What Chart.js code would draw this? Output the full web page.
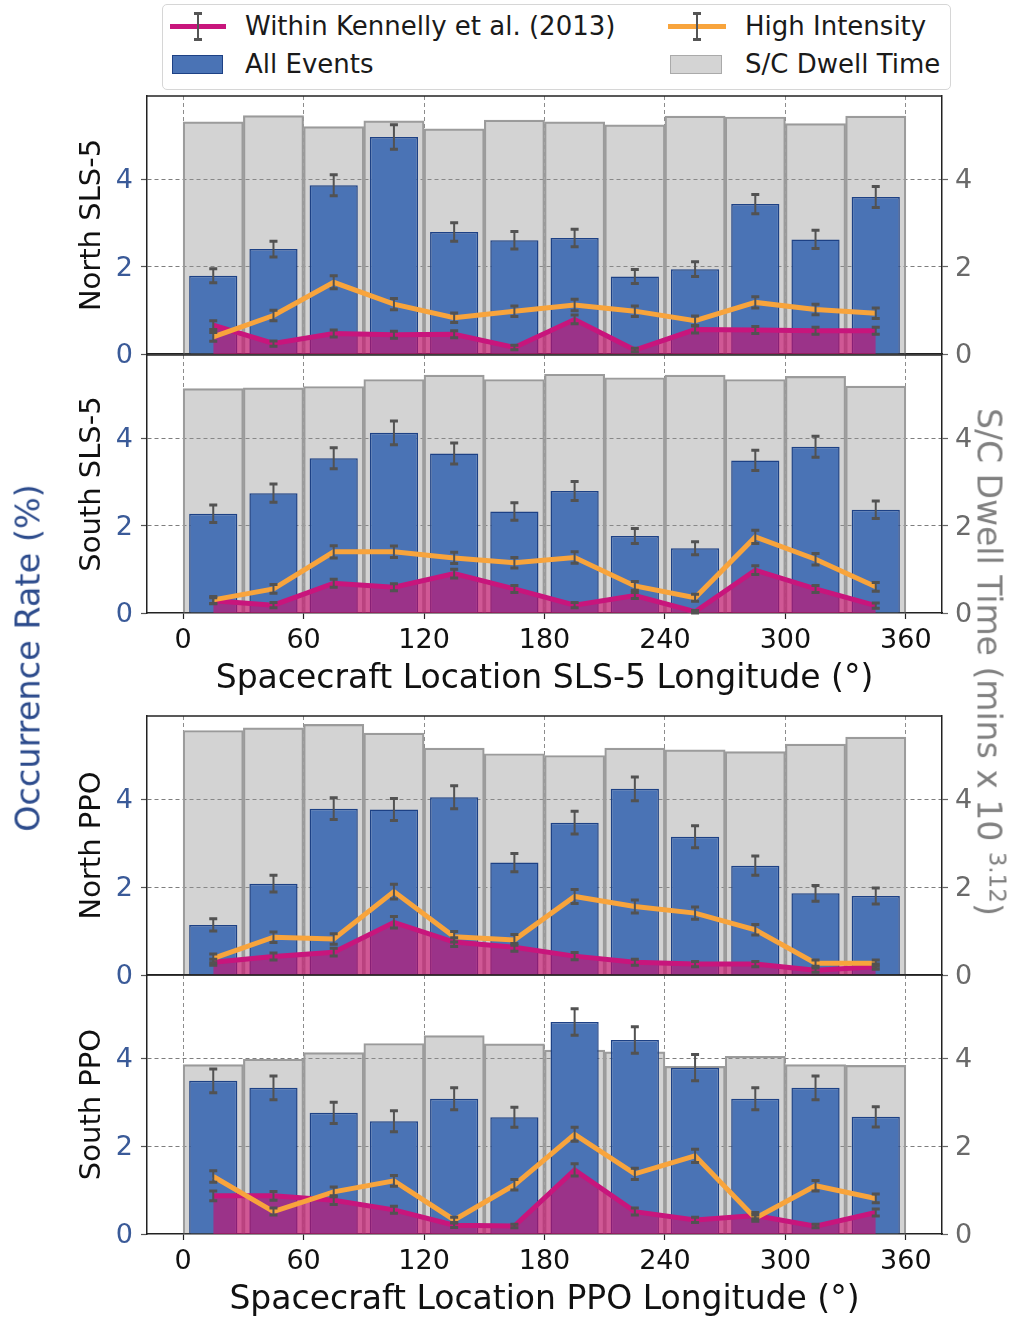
<!DOCTYPE html>
<html>
<head>
<meta charset="utf-8">
<script src="https://cdn.jsdelivr.net/npm/chart.js@4.4.1/dist/chart.umd.min.js"></script>
<style>
  html, body { margin: 0; padding: 0; background: #fff; }
  body { width: 1013px; height: 1319px; position: relative; overflow: hidden; font-family: 'DejaVu Sans', sans-serif; }
  canvas.panel { position: absolute; left: 0; }
  .txt { position: absolute; white-space: nowrap; color: #1a1a1a; }
  .rot { transform: translate(-50%, -50%) rotate(-90deg); }
  .rotcw { transform: translate(-50%, -50%) rotate(90deg); }
  .leg { position: absolute; }
</style>
</head>
<body>
<div class="leg" style="left:162px;top:4px;width:787px;height:84px;border:1.5px solid #d6d6d6;border-radius:5px;background:#fff;"></div>
<!-- legend markers -->
<div class="leg" style="left:170px;top:24px;width:56px;height:5px;background:#c8157c;"></div>
<div class="leg" style="left:197px;top:13px;width:2px;height:27px;background:#555;"></div>
<div class="leg" style="left:194px;top:12px;width:8px;height:3px;background:#555;"></div>
<div class="leg" style="left:194px;top:38px;width:8px;height:3px;background:#555;"></div>
<div class="leg" style="left:668px;top:24px;width:58px;height:5px;background:#f8a43c;"></div>
<div class="leg" style="left:696px;top:13px;width:2px;height:27px;background:#555;"></div>
<div class="leg" style="left:693px;top:12px;width:8px;height:3px;background:#555;"></div>
<div class="leg" style="left:693px;top:38px;width:8px;height:3px;background:#555;"></div>
<div class="leg" style="left:172px;top:55px;width:49px;height:17px;background:#4a73b5;border:1.5px solid #1d4185;"></div>
<div class="leg" style="left:670px;top:55px;width:50px;height:17px;background:#d4d4d4;border:1.5px solid #aaa;"></div>
<div class="txt" style="left:245px;top:10px;font-size:26px;line-height:32px;">Within Kennelly et al. (2013)</div>
<div class="txt" style="left:245px;top:48px;font-size:26px;line-height:32px;">All Events</div>
<div class="txt" style="left:745px;top:10px;font-size:26px;line-height:32px;">High Intensity</div>
<div class="txt" style="left:745px;top:48px;font-size:26px;line-height:32px;">S/C Dwell Time</div>

<canvas class="panel" id="p0" width="1013" height="310"></canvas>
<canvas class="panel" id="p1" width="1013" height="374"></canvas>
<canvas class="panel" id="p2" width="1013" height="310"></canvas>
<canvas class="panel" id="p3" width="1013" height="374"></canvas>

<div class="txt rot" style="left:28px;top:658px;font-size:33.5px;color:#2c4b8c;">Occurrence Rate (%)</div>
<div class="txt rotcw" style="left:990px;top:662px;font-size:33px;color:#808080;">S/C Dwell Time (mins x 10 <sup style="font-size:23px;">3.12</sup>)</div>

<script>
// ---------------- DATA ----------------
const lonCenters = [15, 45, 75, 105, 135, 165, 195, 225, 255, 285, 315, 345];
const xTickValues = [0, 60, 120, 180, 240, 300, 360];
const yTickValues = [0, 2, 4];

// North SLS-5
const dwellNorthSLS = [5.31, 5.45, 5.20, 5.33, 5.15, 5.35, 5.31, 5.24, 5.44, 5.42, 5.27, 5.44];
const allNorthSLS = [1.79, 2.40, 3.86, 4.96, 2.79, 2.60, 2.65, 1.77, 1.94, 3.43, 2.62, 3.59];
const allErrNorthSLS = [0.16, 0.18, 0.24, 0.28, 0.21, 0.20, 0.20, 0.16, 0.17, 0.22, 0.21, 0.24];
const highNorthSLS = [0.39, 0.88, 1.64, 1.14, 0.83, 0.98, 1.12, 0.98, 0.76, 1.18, 1.02, 0.93];
const highErrNorthSLS = [0.10, 0.12, 0.15, 0.13, 0.11, 0.12, 0.13, 0.12, 0.11, 0.13, 0.12, 0.12];
const kenNorthSLS = [0.66, 0.24, 0.47, 0.44, 0.45, 0.15, 0.79, 0.09, 0.56, 0.55, 0.53, 0.53];
const kenErrNorthSLS = [0.10, 0.06, 0.08, 0.08, 0.08, 0.05, 0.10, 0.04, 0.08, 0.08, 0.08, 0.08];

// South SLS-5
const dwellSouthSLS = [5.13, 5.15, 5.18, 5.34, 5.44, 5.34, 5.46, 5.38, 5.44, 5.34, 5.41, 5.19];
const allSouthSLS = [2.27, 2.74, 3.54, 4.12, 3.65, 2.32, 2.79, 1.76, 1.48, 3.49, 3.80, 2.36];
const allErrSouthSLS = [0.20, 0.21, 0.24, 0.27, 0.24, 0.20, 0.22, 0.17, 0.15, 0.23, 0.24, 0.20];
const highSouthSLS = [0.30, 0.55, 1.40, 1.40, 1.26, 1.15, 1.27, 0.62, 0.35, 1.74, 1.23, 0.60];
const highErrSouthSLS = [0.08, 0.10, 0.14, 0.13, 0.13, 0.12, 0.13, 0.10, 0.08, 0.15, 0.13, 0.10];
const kenSouthSLS = [0.28, 0.18, 0.68, 0.59, 0.90, 0.55, 0.18, 0.40, 0.03, 0.98, 0.55, 0.17];
const kenErrSouthSLS = [0.07, 0.06, 0.09, 0.08, 0.10, 0.08, 0.06, 0.07, 0.03, 0.10, 0.08, 0.06];

// North PPO
const dwellNorthPPO = [5.57, 5.63, 5.71, 5.51, 5.17, 5.04, 5.00, 5.17, 5.13, 5.09, 5.26, 5.42];
const allNorthPPO = [1.14, 2.08, 3.79, 3.77, 4.05, 2.56, 3.47, 4.24, 3.15, 2.49, 1.86, 1.80];
const allErrNorthPPO = [0.14, 0.19, 0.25, 0.25, 0.26, 0.21, 0.26, 0.27, 0.25, 0.22, 0.18, 0.18];
const highNorthPPO = [0.38, 0.86, 0.82, 1.90, 0.87, 0.80, 1.79, 1.56, 1.41, 1.03, 0.27, 0.27];
const highErrNorthPPO = [0.10, 0.12, 0.12, 0.17, 0.12, 0.12, 0.16, 0.15, 0.14, 0.12, 0.07, 0.07];
const kenNorthPPO = [0.29, 0.42, 0.52, 1.20, 0.75, 0.63, 0.43, 0.29, 0.25, 0.25, 0.11, 0.19];
const kenErrNorthPPO = [0.07, 0.08, 0.09, 0.13, 0.10, 0.09, 0.08, 0.07, 0.06, 0.06, 0.05, 0.06];

// South PPO
const dwellSouthPPO = [3.86, 3.98, 4.13, 4.34, 4.52, 4.33, 4.19, 4.15, 3.82, 4.05, 3.86, 3.84];
const allSouthPPO = [3.49, 3.33, 2.76, 2.57, 3.08, 2.66, 4.83, 4.42, 3.79, 3.08, 3.33, 2.67];
const allErrSouthPPO = [0.27, 0.27, 0.24, 0.24, 0.25, 0.23, 0.30, 0.30, 0.30, 0.25, 0.27, 0.23];
const highSouthPPO = [1.31, 0.51, 0.96, 1.21, 0.32, 1.12, 2.27, 1.37, 1.78, 0.36, 1.10, 0.81];
const highErrSouthPPO = [0.13, 0.08, 0.11, 0.12, 0.06, 0.12, 0.16, 0.13, 0.15, 0.07, 0.12, 0.10];
const kenSouthPPO = [0.87, 0.87, 0.77, 0.55, 0.20, 0.18, 1.46, 0.51, 0.32, 0.42, 0.18, 0.49];
const kenErrSouthPPO = [0.11, 0.10, 0.10, 0.08, 0.05, 0.04, 0.14, 0.08, 0.06, 0.07, 0.04, 0.08];

// ---------------- LAYOUT / STYLE ----------------
const FONT = "'DejaVu Sans', sans-serif";
Chart.defaults.font.family = FONT;

const panels = [
  { id: 'p0', label: 'North SLS-5', plotTop: 96, plotH: 258, bottomAxis: false, xTitle: '',
    dwell: dwellNorthSLS, all: allNorthSLS, allErr: allErrNorthSLS, high: highNorthSLS, highErr: highErrNorthSLS, ken: kenNorthSLS, kenErr: kenErrNorthSLS },
  { id: 'p1', label: 'South SLS-5', plotTop: 355, plotH: 258, bottomAxis: true, xTitle: 'Spacecraft Location SLS-5 Longitude (°)',
    dwell: dwellSouthSLS, all: allSouthSLS, allErr: allErrSouthSLS, high: highSouthSLS, highErr: highErrSouthSLS, ken: kenSouthSLS, kenErr: kenErrSouthSLS },
  { id: 'p2', label: 'North PPO', plotTop: 716, plotH: 259, bottomAxis: false, xTitle: '',
    dwell: dwellNorthPPO, all: allNorthPPO, allErr: allErrNorthPPO, high: highNorthPPO, highErr: highErrNorthPPO, ken: kenNorthPPO, kenErr: kenErrNorthPPO },
  { id: 'p3', label: 'South PPO', plotTop: 975, plotH: 259, bottomAxis: true, xTitle: 'Spacecraft Location PPO Longitude (°)',
    dwell: dwellSouthPPO, all: allSouthPPO, allErr: allErrSouthPPO, high: highSouthPPO, highErr: highErrSouthPPO, ken: kenSouthPPO, kenErr: kenErrSouthPPO },
];

const PAD = 26;
const BOTTOM_AXIS_H = 90;
const LEFT_W = 147;
const RIGHT_W = 71;

const errorBarPlugin = {
  id: 'errorBars',
  afterDatasetsDraw(chart) {
    const ctx = chart.ctx;
    chart.data.datasets.forEach((ds, di) => {
      if (!ds.errors) return;
      const meta = chart.getDatasetMeta(di);
      const yScale = chart.scales[meta.yAxisID];
      ctx.save();
      ctx.strokeStyle = '#525252';
      meta.data.forEach((el, i) => {
        const v = ds.data[i].y, e = ds.errors[i];
        const x = el.x;
        const yLo = yScale.getPixelForValue(v - e);
        const yHi = yScale.getPixelForValue(v + e);
        ctx.lineWidth = 2;
        ctx.beginPath(); ctx.moveTo(x, yLo); ctx.lineTo(x, yHi); ctx.stroke();
        ctx.lineWidth = 3;
        ctx.beginPath();
        ctx.moveTo(x - 4, yLo); ctx.lineTo(x + 4, yLo);
        ctx.moveTo(x - 4, yHi); ctx.lineTo(x + 4, yHi);
        ctx.stroke();
      });
      ctx.restore();
    });
  }
};

const frameTopPlugin = {
  id: 'frameTop',
  afterDraw(chart) {
    const a = chart.chartArea, ctx = chart.ctx;
    ctx.save();
    ctx.strokeStyle = '#222';
    ctx.lineWidth = 1.5;
    ctx.beginPath(); ctx.moveTo(a.left, a.top); ctx.lineTo(a.right, a.top); ctx.stroke();
    ctx.restore();
  }
};

const toPoints = arr => arr.map((v, i) => ({ x: lonCenters[i], y: v }));
const gridDash = [4, 3];

panels.forEach(p => {
  const canvas = document.getElementById(p.id);
  const h = PAD + p.plotH + (p.bottomAxis ? BOTTOM_AXIS_H : PAD);
  canvas.height = h;
  canvas.style.top = (p.plotTop - PAD) + 'px';

  new Chart(canvas, {
    type: 'bar',
    data: {
      datasets: [
        { type: 'bar', label: 'S/C Dwell Time', data: toPoints(p.dwell), yAxisID: 'y2', xAxisID: 'x',
          backgroundColor: 'rgba(150,150,150,0.42)', borderColor: '#9c9c9c', borderWidth: 1.5,
          barPercentage: 1, categoryPercentage: 1, grouped: false, order: 4 },
        { type: 'bar', label: 'All Events', data: toPoints(p.all), errors: p.allErr, yAxisID: 'y', xAxisID: 'x',
          backgroundColor: '#4a73b5', borderColor: '#1d4185', borderWidth: 1.5,
          barPercentage: 0.8, categoryPercentage: 1, grouped: false, order: 3 },
        { type: 'line', label: 'Within Kennelly et al. (2013)', data: toPoints(p.ken), errors: p.kenErr, yAxisID: 'y', xAxisID: 'x',
          borderColor: '#c8157c', backgroundColor: 'rgba(205,12,110,0.62)', borderWidth: 5,
          fill: 'origin', pointRadius: 0, tension: 0, order: 2 },
        { type: 'line', label: 'High Intensity', data: toPoints(p.high), errors: p.highErr, yAxisID: 'y', xAxisID: 'x',
          borderColor: '#f8a43c', borderWidth: 5, fill: false, pointRadius: 0, tension: 0, order: 1 },
      ]
    },
    options: {
      responsive: false,
      animation: false,
      devicePixelRatio: 1,
      layout: { padding: { top: PAD, bottom: 0, left: 0, right: 0 } },
      plugins: { legend: { display: false }, tooltip: { enabled: false } },
      scales: {
        x: {
          type: 'linear', position: 'bottom', min: -18, max: 378, offset: false,
          afterBuildTicks: s => { s.ticks = xTickValues.map(v => ({ value: v })); },
          afterFit: s => { s.height = p.bottomAxis ? BOTTOM_AXIS_H : PAD; },
          grid: { offset: false, color: '#8c8c8c', lineWidth: 1, drawTicks: p.bottomAxis, tickLength: 6, tickColor: '#222', tickWidth: 1.2 },
          border: { display: true, color: '#222', width: 1.5, dash: gridDash },
          ticks: { display: p.bottomAxis, color: '#111', font: { size: 27 }, padding: 6, maxRotation: 0, autoSkip: false },
          title: { display: p.bottomAxis, text: p.xTitle, color: '#111', font: { size: 33 }, padding: { top: 0, bottom: 4 } }
        },
        y: {
          position: 'left', min: 0, max: 5.9,
          afterBuildTicks: s => { s.ticks = yTickValues.map(v => ({ value: v })); },
          afterFit: s => { s.width = LEFT_W; },
          grid: { color: c => (c.tick && c.tick.value === 0) ? 'rgba(0,0,0,0)' : '#7e7e7e', lineWidth: 1,
                  drawTicks: true, tickLength: 6, tickColor: '#555', tickWidth: 1.2 },
          border: { display: true, color: '#222', width: 1.5, dash: gridDash },
          ticks: { color: '#3a5a98', font: { size: 27 }, padding: 8, labelOffset: 2 },
          title: { display: true, text: p.label, color: '#111', font: { size: 29 }, padding: { top: 75, bottom: 0 } }
        },
        y2: {
          position: 'right', min: 0, max: 5.9,
          afterBuildTicks: s => { s.ticks = yTickValues.map(v => ({ value: v })); },
          afterFit: s => { s.width = RIGHT_W; },
          grid: { drawOnChartArea: false, drawTicks: true, tickLength: 6, tickColor: '#666', tickWidth: 1.2 },
          border: { display: true, color: '#222', width: 1.5 },
          ticks: { color: '#6a6a6a', font: { size: 27 }, padding: 7, labelOffset: 2 }
        }
      }
    },
    plugins: [errorBarPlugin, frameTopPlugin]
  });
});
</script>
</body>
</html>
